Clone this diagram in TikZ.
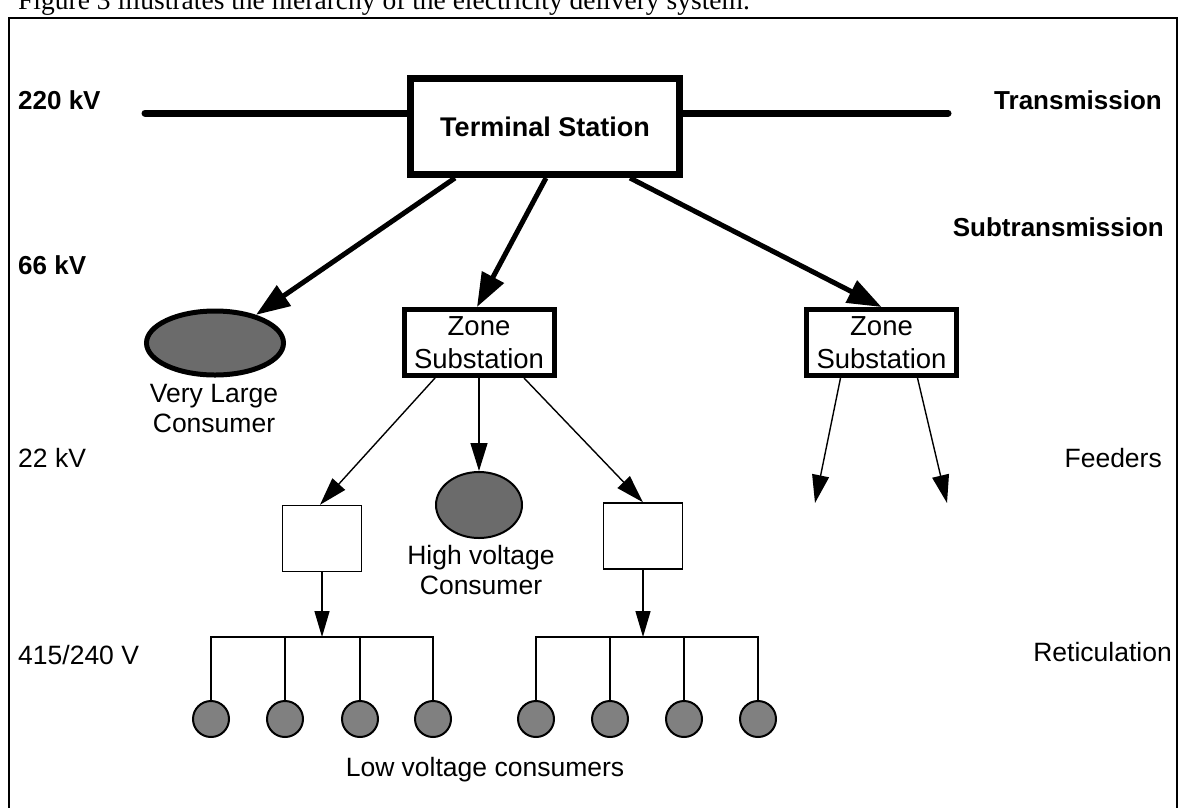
\documentclass[tikz,border=0pt]{standalone}
\usepackage{fontspec}
\setmainfont{Liberation Sans}
\newfontfamily\capserif{Liberation Serif}
\usetikzlibrary{arrows.meta,shapes.geometric}
\begin{document}
\begin{tikzpicture}[x=1pt,y=-1pt,
  reg/.style={font=\fontsize{26.5}{30}\selectfont},
  bld/.style={font=\fontsize{26}{30}\selectfont\bfseries},
  heavyarrow/.style={line width=5pt,-{Triangle[length=34pt,width=24pt]}},
  lightarrow/.style={line width=1.4pt,-{Triangle[length=28pt,width=17pt]}},
  plainarrow/.style={line width=1.4pt,-{Triangle[length=26pt,width=15pt]}},
  termbox/.style={draw,line width=7pt,minimum width=269pt,minimum height=96pt,inner sep=0pt},
  zonebox/.style={draw,line width=5pt,minimum width=150pt,minimum height=66pt,inner sep=0pt,align=center,font=\fontsize{27.5}{33}\selectfont},
  smallbox/.style={draw,line width=1.4pt,minimum width=79pt,minimum height=66pt,inner sep=0pt},
  lvc/.style={circle,draw,line width=2pt,fill=black!50,minimum size=36pt,inner sep=0pt},
  wire/.style={line width=1.4pt}
]
\useasboundingbox (0,0) rectangle (1180,807);
% caption line cut at top
\node[anchor=base west,inner sep=0pt,font=\capserif\fontsize{27.5}{32}\selectfont] (cap) at (18,9) {Figure 3 illustrates the hierarchy of the electricity delivery system.};
% frame
\draw[line width=2.5pt] (9,810) -- (9,18) -- (1177,18) -- (1177,810);

% level labels
\node[bld,anchor=west,inner sep=0pt] (l220) at (18,100) {220 kV};
\node[bld,anchor=west,inner sep=0pt] (l66) at (18,265) {66 kV};
\node[reg,anchor=west,inner sep=0pt] (l22) at (18,458) {22 kV};
\node[reg,anchor=west,inner sep=0pt] (l415) at (18,655) {415/240 V};
\node[bld,anchor=east,inner sep=0pt] (ltr) at (1162,100) {Transmission};
\node[bld,anchor=east,inner sep=0pt] (lsub) at (1164,227) {Subtransmission};
\node[reg,anchor=east,inner sep=0pt] (lfeed) at (1162,458) {Feeders};
\node[reg,anchor=east,inner sep=0pt] (lret) at (1172,652) {Reticulation};

% terminal station and transmission line
\coordinate (tl) at (145,113);
\coordinate (tr) at (948,113);
\node[termbox,font=\fontsize{27}{32}\selectfont\bfseries] (term) at (545,126.5) {Terminal Station};
\draw[line width=7pt,line cap=round] (tl) -- (term.west |- tl);
\draw[line width=7pt,line cap=round] (term.east |- tr) -- (tr);

% very large consumer
\node[ellipse,draw,line width=5pt,fill=black!58,minimum width=137pt,minimum height=64pt,inner sep=0pt] (vlc) at (215,343) {};
\node[reg,align=center,inner sep=0pt] (vlct) at (214,409) {Very Large\\Consumer};

% zone substations
\node[zonebox] (zs1) at (479,342.5) {Zone\\Substation};
\node[zonebox] (zs2) at (881.5,342.5) {Zone\\Substation};

\draw[heavyarrow] ([xshift=-90pt]term.south) -- (vlc);
\draw[heavyarrow] ([xshift=1pt]term.south) -- ([xshift=-2pt]zs1.north);
\draw[heavyarrow] ([xshift=85pt]term.south) -- (zs2.north);

% feeders from zone 2
\coordinate (f1) at (815,503);
\coordinate (f2) at (947,503);
\draw[lightarrow] ([xshift=-41pt]zs2.south) -- (f1);
\draw[lightarrow] ([xshift=36pt]zs2.south) -- (f2);

% distribution from zone 1
\node[smallbox] (b1) at (322,538.5) {};
\node[smallbox] (b2) at (643,536) {};
\node[ellipse,draw,line width=2pt,fill=black!58,minimum width=86pt,minimum height=66pt,inner sep=0pt] (hv) at (479,505) {};
\node[reg,align=center,inner sep=0pt] (hvt) at (481,570) {High voltage\\Consumer};

\draw[lightarrow] ([xshift=-44pt]zs1.south) -- ([xshift=-2pt]b1.north);
\draw[lightarrow] (zs1.south) -- (hv.north);
\draw[lightarrow] ([xshift=45pt]zs1.south) -- (b2.north);

% low voltage consumers
\foreach \n/\x in {c1/211,c2/285,c3/360,c4/433,c5/536,c6/610,c7/684,c8/758}
  \node[lvc] (\n) at (\x,719) {};
\coordinate (busL) at (322,637);
\coordinate (busR) at (643,637);
\draw[wire] (c1.north) -- (c1.north |- busL) -- (c4.north |- busL) -- (c4.north);
\draw[wire] (c2.north) -- (c2.north |- busL);
\draw[wire] (c3.north) -- (c3.north |- busL);
\draw[wire] (c5.north) -- (c5.north |- busR) -- (c8.north |- busR) -- (c8.north);
\draw[wire] (c6.north) -- (c6.north |- busR);
\draw[wire] (c7.north) -- (c7.north |- busR);
\draw[plainarrow] (b1.south) -- (busL);
\draw[plainarrow] (b2.south) -- (busR);
\node[reg,inner sep=0pt] (lvt) at (485,770) {Low voltage consumers};
\end{tikzpicture}
\end{document}
